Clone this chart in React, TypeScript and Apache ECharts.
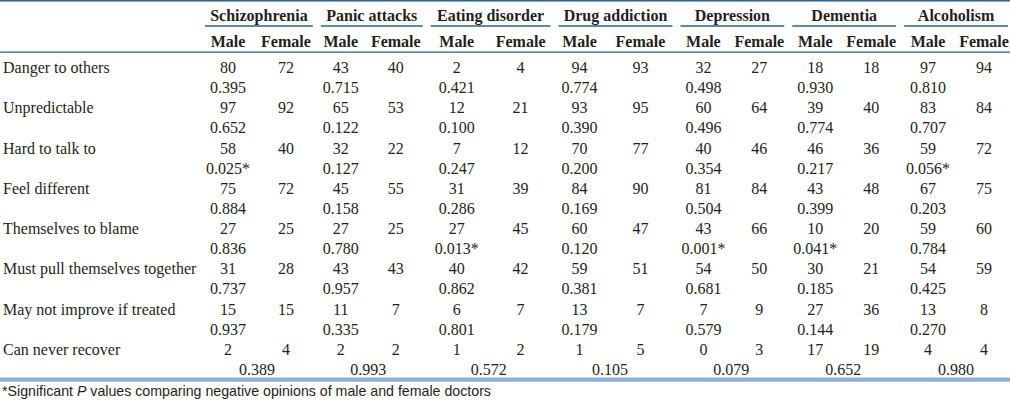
import React, { useEffect, useRef } from "react";
import * as echarts from "echarts";

// ---------- data ----------
const ROWS = [
  "Danger to others",
  "Unpredictable",
  "Hard to talk to",
  "Feel different",
  "Themselves to blame",
  "Must pull themselves together",
  "May not improve if treated",
  "Can never recover",
];
const GROUPS = [
  "Schizophrenia",
  "Panic attacks",
  "Eating disorder",
  "Drug addiction",
  "Depression",
  "Dementia",
  "Alcoholism",
];
const SUB_HEADERS = ["Male", "Female"];

const SCHIZOPHRENIA_MALE = [80, 97, 58, 75, 27, 31, 15, 2];
const SCHIZOPHRENIA_FEMALE = [72, 92, 40, 72, 25, 28, 15, 4];
const SCHIZOPHRENIA_P = ["0.395", "0.652", "0.025*", "0.884", "0.836", "0.737", "0.937", "0.389"];

const PANIC_MALE = [43, 65, 32, 45, 27, 43, 11, 2];
const PANIC_FEMALE = [40, 53, 22, 55, 25, 43, 7, 2];
const PANIC_P = ["0.715", "0.122", "0.127", "0.158", "0.780", "0.957", "0.335", "0.993"];

const EATING_MALE = [2, 12, 7, 31, 27, 40, 6, 1];
const EATING_FEMALE = [4, 21, 12, 39, 45, 42, 7, 2];
const EATING_P = ["0.421", "0.100", "0.247", "0.286", "0.013*", "0.862", "0.801", "0.572"];

const DRUG_MALE = [94, 93, 70, 84, 60, 59, 13, 1];
const DRUG_FEMALE = [93, 95, 77, 90, 47, 51, 7, 5];
const DRUG_P = ["0.774", "0.390", "0.200", "0.169", "0.120", "0.381", "0.179", "0.105"];

const DEPRESSION_MALE = [32, 60, 40, 81, 43, 54, 7, 0];
const DEPRESSION_FEMALE = [27, 64, 46, 84, 66, 50, 9, 3];
const DEPRESSION_P = ["0.498", "0.496", "0.354", "0.504", "0.001*", "0.681", "0.579", "0.079"];

const DEMENTIA_MALE = [18, 39, 46, 43, 10, 30, 27, 17];
const DEMENTIA_FEMALE = [18, 40, 36, 48, 20, 21, 36, 19];
const DEMENTIA_P = ["0.930", "0.774", "0.217", "0.399", "0.041*", "0.185", "0.144", "0.652"];

const ALCOHOLISM_MALE = [97, 83, 59, 67, 59, 54, 13, 4];
const ALCOHOLISM_FEMALE = [94, 84, 72, 75, 60, 59, 8, 4];
const ALCOHOLISM_P = ["0.810", "0.707", "0.056*", "0.203", "0.784", "0.425", "0.270", "0.980"];

const FOOTNOTE_PRE = "*Significant ";
const FOOTNOTE_ITALIC = "P";
const FOOTNOTE_POST = " values comparing negative opinions of male and female doctors";

// ---------- layout (not data) ----------
const COL_WIDTHS = [58, 58, 52, 58, 64, 64, 54, 68, 58, 54, 58, 54, 60, 52];
const GRID_LEFT = 198;
const ROW_H = 20.125;
const GRID_TOP = 57.5;
const SERIF = '"Liberation Serif", "Times New Roman", serif';
const SANS = '"Liberation Sans", Arial, sans-serif';
const TEXT = "#231f20";
const DARK_LINE = "#26628f";
const LIGHT_LINE = "#8fb0d6";

const MALE = [SCHIZOPHRENIA_MALE, PANIC_MALE, EATING_MALE, DRUG_MALE, DEPRESSION_MALE, DEMENTIA_MALE, ALCOHOLISM_MALE];
const FEMALE = [SCHIZOPHRENIA_FEMALE, PANIC_FEMALE, EATING_FEMALE, DRUG_FEMALE, DEPRESSION_FEMALE, DEMENTIA_FEMALE, ALCOHOLISM_FEMALE];
const PVALS = [SCHIZOPHRENIA_P, PANIC_P, EATING_P, DRUG_P, DEPRESSION_P, DEMENTIA_P, ALCOHOLISM_P];

const COL_STARTS: number[] = [];
const COL_CENTERS: number[] = [];
{
  let acc = 0;
  COL_WIDTHS.forEach((w) => {
    COL_STARTS.push(acc);
    COL_CENTERS.push(acc + w / 2);
    acc += w;
  });
}
const TOTAL_W = COL_WIDTHS.reduce((a, b) => a + b, 0);

const Y_CATS = ROWS.flatMap((r, i) => [r, "p-" + i]);

// cells: [x, yIndex, text]
const CELLS: [number, number, string][] = [];
GROUPS.forEach((_, g) => {
  const mx = COL_CENTERS[2 * g];
  const fx = COL_CENTERS[2 * g + 1];
  ROWS.forEach((__, r) => {
    CELLS.push([mx, 2 * r, String(MALE[g][r])]);
    CELLS.push([fx, 2 * r, String(FEMALE[g][r])]);
    const last = r === ROWS.length - 1;
    CELLS.push([last ? (mx + fx) / 2 : mx, 2 * r + 1, PVALS[g][r]]);
  });
});

const HEADER_DATA = GROUPS.map((_, g) => [COL_STARTS[2 * g], 0]);

export default function App() {
  const ref = useRef<HTMLDivElement>(null);

  useEffect(() => {
    document.body.style.margin = "0";
    const chart = echarts.init(ref.current!, null, { renderer: "svg" });

    const option: any = {
      animation: false,
      grid: { left: GRID_LEFT, right: 1010 - GRID_LEFT - TOTAL_W, top: GRID_TOP, height: ROW_H * Y_CATS.length },
      xAxis: { type: "value", min: 0, max: TOTAL_W, show: false },
      yAxis: {
        type: "category",
        inverse: true,
        data: Y_CATS,
        axisLine: { show: false },
        axisTick: { show: false },
        splitLine: { show: false },
        axisLabel: {
          interval: 0,
          align: "left",
          margin: GRID_LEFT - 2,
          color: TEXT,
          fontSize: 16,
          fontFamily: SERIF,
          formatter: (v: string, i: number) => (i % 2 === 0 ? v : ""),
        },
      },
      series: [
        {
          type: "custom",
          name: "cells",
          clip: false,
          silent: true,
          data: CELLS.map((c) => [c[0], c[1]]),
          renderItem: (params: any, api: any) => {
            const pt = api.coord([api.value(0), api.value(1)]);
            return {
              type: "text",
              x: pt[0],
              y: pt[1],
              style: {
                text: CELLS[params.dataIndex][2],
                fill: TEXT,
                fontSize: 16,
                fontFamily: SERIF,
                align: "center",
                verticalAlign: "middle",
              },
            };
          },
        },
        {
          type: "custom",
          name: "header",
          clip: false,
          silent: true,
          data: HEADER_DATA,
          renderItem: (params: any, api: any) => {
            const g = params.dataIndex;
            const start = COL_STARTS[2 * g];
            const end = start + COL_WIDTHS[2 * g] + COL_WIDTHS[2 * g + 1];
            const x0 = api.coord([start, 0])[0] + 6;
            const x1 = api.coord([end, 0])[0] - 2;
            const mx = api.coord([COL_CENTERS[2 * g], 0])[0];
            const fx = api.coord([COL_CENTERS[2 * g + 1], 0])[0];
            const top = params.coordSys.y;
            const bold = {
              fill: TEXT,
              fontSize: 16,
              fontWeight: "bold",
              fontFamily: SERIF,
              align: "center",
              verticalAlign: "middle",
            };
            return {
              type: "group",
              children: [
                { type: "text", x: (x0 + x1) / 2, y: top - 42.5, style: { ...bold, text: GROUPS[g] } },
                {
                  type: "line",
                  shape: { x1: x0, y1: top - 31.5, x2: x1, y2: top - 31.5 },
                  style: { stroke: DARK_LINE, lineWidth: 1.3 },
                },
                { type: "text", x: mx, y: top - 16, style: { ...bold, text: SUB_HEADERS[0] } },
                { type: "text", x: fx, y: top - 16, style: { ...bold, text: SUB_HEADERS[1] } },
              ],
            };
          },
        },
      ],
      graphic: [
        { type: "line", silent: true, shape: { x1: 0, y1: 0.75, x2: 1010, y2: 0.75 }, style: { stroke: DARK_LINE, lineWidth: 1.5 } },
        { type: "line", silent: true, shape: { x1: 0, y1: 52.2, x2: 1010, y2: 52.2 }, style: { stroke: DARK_LINE, lineWidth: 1.2 } },
        { type: "rect", silent: true, shape: { x: 0, y: 377.4, width: 1010, height: 4.3 }, style: { fill: LIGHT_LINE } },
        {
          type: "text",
          silent: true,
          x: 2,
          y: 391,
          style: {
            text: FOOTNOTE_PRE + "{i|" + FOOTNOTE_ITALIC + "}" + FOOTNOTE_POST,
            fill: TEXT,
            fontSize: 14.2,
            fontFamily: SANS,
            verticalAlign: "middle",
            rich: { i: { fontStyle: "italic", fontSize: 14.2, fontFamily: SANS, fill: TEXT } },
          },
        },
      ],
    };

    chart.setOption(option);
    return () => chart.dispose();
  }, []);

  return <div ref={ref} style={{ width: 1010, height: 400 }} />;
}
